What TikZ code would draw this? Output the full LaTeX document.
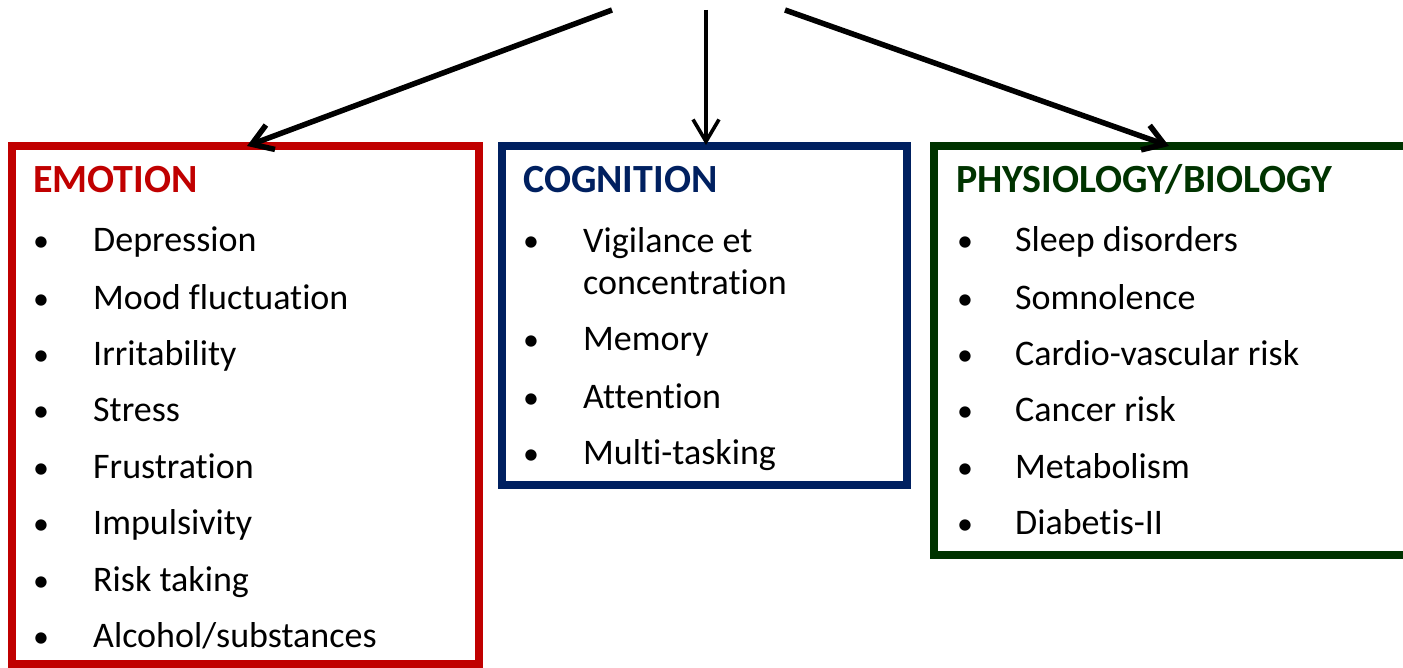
\documentclass[tikz,border=0pt]{standalone}
\usepackage{fontspec}
\setmainfont{Carlito}[Ligatures=NoCommon]
\usetikzlibrary{arrows.meta}
\definecolor{emored}{HTML}{C00000}
\definecolor{cogblue}{HTML}{002060}
\definecolor{phygreen}{HTML}{003300}
\begin{document}
\begin{tikzpicture}[x=1pt,y=-1pt,
  box/.style={draw, line width=8pt, inner sep=0pt, outer sep=0pt, anchor=north west},
  title/.style={anchor=base west, inner sep=0pt, font=\fontsize{40}{44}\selectfont\bfseries},
  item/.style={anchor=base west, inner sep=0pt, font=\fontsize{36}{43}\selectfont, align=left},
  bul/.style={anchor=base west, inner sep=0pt, font=\fontsize{32}{43}\selectfont},
  conn/.style={line width=5.5pt, -{Straight Barb[length=20pt,width=26pt]}},
  connthin/.style={line width=3.6pt, -{Straight Barb[length=22pt,width=26pt]}}
]
\useasboundingbox (0,0) rectangle (1403,668);
\clip (0,0) rectangle (1403,668);

% boxes
\node[box, draw=emored, minimum width=467pt, minimum height=518pt] (emo) at (12,146) {};
\node[box, draw=cogblue, minimum width=405pt, minimum height=339pt] (cog) at (502,146) {};
\node[box, draw=phygreen, minimum width=490pt, minimum height=409pt] (phy) at (934,146) {};

% titles
\node[title, text=emored] (t1) at (33,193) {EMOTION};
\node[title, text=cogblue] (t2) at (523,193) {COGNITION};
\node[title, text=phygreen] (t3) at (956,193) {PHYSIOLOGY/BIOLOGY};

% emotion items
\foreach \y/\t [count=\i] in {252/Depression, 309/Mood fluctuation, 365/Irritability, 421/Stress, 478/Frustration, 534/Impulsivity, 591/Risk taking, 647/Alcohol\slash substances}{
  \node[bul] (eb\i) at (33,\y) {•};
  \node[item] (ei\i) at (93,\y) {\t};
}

% cognition items
\node[bul] (cb1) at (523,252) {•};
\node[item] (ci1) at (583,295) {Vigilance et\\concentration};
\foreach \y/\t [count=\i from 2] in {351/Memory, 408/Attention, 464/Multi-tasking}{
  \node[bul] (cb\i) at (523,\y) {•};
  \node[item] (ci\i) at (583,\y) {\t};
}

% physiology items
\foreach \y/\t [count=\i] in {252/Sleep disorders, 309/Somnolence, 365/Cardio-vascular risk, 421/Cancer risk, 478/Metabolism, 534/Diabetis-II}{
  \node[bul] (pb\i) at (957,\y) {•};
  \node[item] (pi\i) at (1015,\y) {\t};
}

% arrows
\coordinate (s1) at (612,10);
\coordinate (s2) at (706,10);
\coordinate (s3) at (785,10);
\coordinate (e1) at (247,146);
\coordinate (e2) at (706,145);
\coordinate (e3) at (1169,146);
\draw[conn] (s1) -- (e1);
\draw[connthin] (s2) -- (e2);
\draw[conn] (s3) -- (e3);
\end{tikzpicture}
\end{document}
